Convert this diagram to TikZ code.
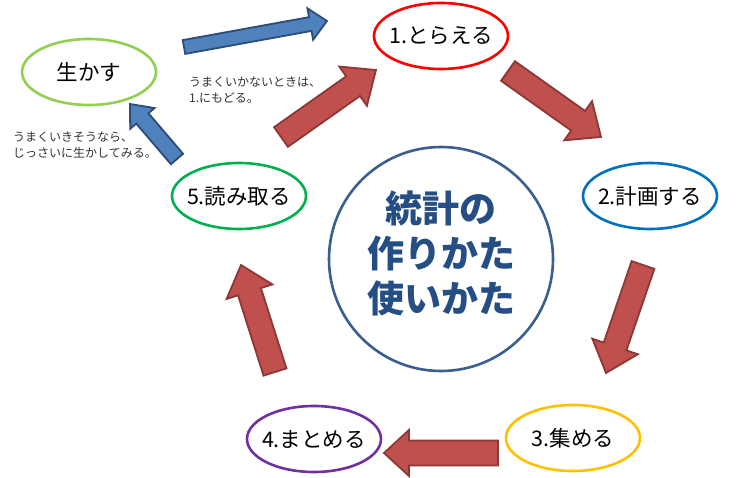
\documentclass[tikz,border=0pt]{standalone}
\usepackage{fontspec}
\setmainfont{Noto Sans CJK JP}
\usetikzlibrary{calc,shapes.geometric}
\definecolor{redfill}{HTML}{C0504D}
\definecolor{redline}{HTML}{8C3836}
\definecolor{bluefill}{HTML}{4F81BD}
\definecolor{blueline}{HTML}{2C4D75}
\definecolor{cgreenlight}{HTML}{92D050}
\definecolor{cred}{HTML}{FF0000}
\definecolor{cblue}{HTML}{0070C0}
\definecolor{corange}{HTML}{FFC000}
\definecolor{cpurple}{HTML}{7030A0}
\definecolor{cgreen}{HTML}{00B050}
\definecolor{circline}{HTML}{3A5F8E}
\definecolor{circtext}{HTML}{244E84}
\definecolor{notegray}{HTML}{333333}
\newcommand\blockarrow[6]{%
  \path let \p1=(#2), \p2=(#3), \n1={atan2(\y2-\y1,\x2-\x1)}, \n2={veclen(\x2-\x1,\y2-\y1)} in
    \pgfextra{\xdef\baang{\n1}\xdef\balen{\n2}};
  \begin{scope}[shift={(#2)}, rotate=\baang]
    \draw[#1] (0pt,-#4pt) -- (\balen-#6pt,-#4pt) -- (\balen-#6pt,-#5pt) -- (\balen,0pt)
      -- (\balen-#6pt,#5pt) -- (\balen-#6pt,#4pt) -- (0pt,#4pt) -- cycle;
  \end{scope}}
\begin{document}
\begin{tikzpicture}[x=1pt,y=-1pt,
  stage/.style={draw=#1, line width=2.6pt, ellipse, minimum width=134pt, minimum height=66pt,
    inner sep=0pt},
  stagetext/.style={font=\fontsize{21.5}{24}\selectfont, text=black, inner sep=0pt},
  redarrow/.style={fill=redfill, draw=redline, line width=1.8pt, line join=miter},
  bluearrow/.style={fill=bluefill, draw=blueline, line width=1.8pt, line join=miter},
  note/.style={align=left, anchor=west, inner sep=0pt, text=notegray,
    font=\fontsize{12}{16}\selectfont}]
\useasboundingbox[fill=white] (0,0) rectangle (740,478);
% stages
\node[stage=cgreenlight, label={[stagetext]center:生かす}] (ikasu) at (89,72) {};
\node[stage=cred, label={[stagetext]center:1.とらえる}] (s1) at (441,36) {};
\node[stage=cblue, label={[stagetext]center:2.計画する}] (s2) at (650,196) {};
\node[stage=corange, label={[stagetext]center:3.集める}] (s3) at (573,438) {};
\node[stage=cpurple, label={[stagetext]center:4.まとめる}] (s4) at (314,439) {};
\node[stage=cgreen, label={[stagetext]center:5.読み取る}] (s5) at (239,196) {};
% center circle
\node[circle, draw=circline, line width=2.6pt, minimum size=224pt, inner sep=0pt] (c) at (441,259) {};
\node[align=center, text=circtext, font=\fontsize{37}{45}\selectfont\bfseries] (ct) at (441,253) {統計の\\作りかた\\使いかた};
% notes
\node[note] (n1) at (189,90) {うまくいかないときは、\\1.にもどる。};
\node[note] (n2) at (13,145) {うまくいきそうなら、\\じっさいに生かしてみる。};
% arrow end points
\coordinate (r1a) at (281,137); \coordinate (r1b) at (376,70);
\coordinate (r2a) at (508,71);  \coordinate (r2b) at (601,137);
\coordinate (r3a) at (643,265); \coordinate (r3b) at (606,373);
\coordinate (r4a) at (498,453); \coordinate (r4b) at (384,453);
\coordinate (r5a) at (275,372); \coordinate (r5b) at (241,265);
\coordinate (b1a) at (184,47);  \coordinate (b1b) at (327,21);
\coordinate (b2a) at (177,159); \coordinate (b2b) at (130,104);
\blockarrow{redarrow}{r1a}{r1b}{12}{24}{28}
\blockarrow{redarrow}{r2a}{r2b}{12}{24}{28}
\blockarrow{redarrow}{r3a}{r3b}{12}{24}{28}
\blockarrow{redarrow}{r4a}{r4b}{12.5}{23}{25}
\blockarrow{redarrow}{r5a}{r5b}{12}{24}{28}
\blockarrow{bluearrow}{b1a}{b1b}{7}{16}{17}
\blockarrow{bluearrow}{b2a}{b2b}{8}{16}{19}
\end{tikzpicture}
\end{document}
